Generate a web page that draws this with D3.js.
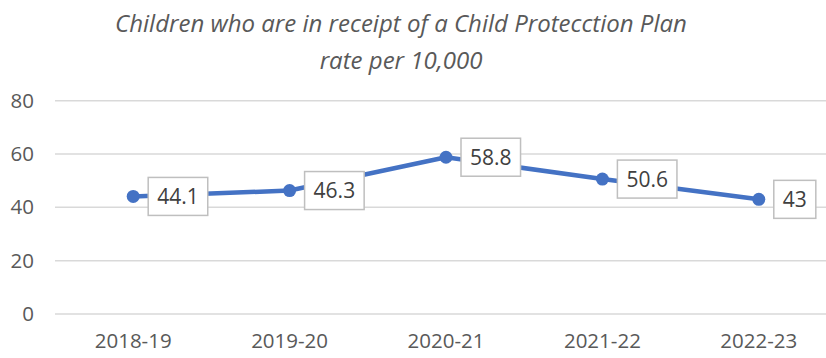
<!DOCTYPE html>
<html><head><meta charset="utf-8">
<script src="https://cdn.jsdelivr.net/npm/d3@7"></script>
<style>
html,body{margin:0;padding:0;background:#fff;}
svg{display:block;}
</style></head>
<body>
<svg id="chart" width="826" height="358"></svg>
<script>
const categories = ["2018-19","2019-20","2020-21","2021-22","2022-23"];
const values = [44.1, 46.3, 58.8, 50.6, 43];
const yTicks = [0, 20, 40, 60, 80];
const titleLines = ["Children who are in receipt of a Child Protecction Plan", "rate per 10,000"];

const svg = d3.select("#chart");
const font = "'Open Sans', sans-serif";

const x = d3.scaleBand().domain(categories).range([55, 837]);
const y = d3.scaleLinear().domain([0, 80]).range([314, 100.7]);

// title
svg.append("g").selectAll("text").data(titleLines).join("text")
  .attr("x", 401).attr("y", (d,i) => 32 + i*37)
  .attr("text-anchor", "middle")
  .attr("font-family", font).attr("font-style", "italic")
  .attr("font-size", 24).attr("fill", "#595959")
  .text(d => d);

// gridlines
svg.append("g").selectAll("line").data(yTicks).join("line")
  .attr("x1", 55).attr("x2", 826)
  .attr("y1", d => y(d)).attr("y2", d => y(d))
  .attr("stroke", "#d9d9d9").attr("stroke-width", 1.5);

// y axis labels
const yAxis = d3.axisLeft(y).tickValues(yTicks).tickSize(0).tickPadding(0);
const yg = svg.append("g").attr("transform", "translate(34,0)").call(yAxis);
yg.select(".domain").remove();
yg.selectAll("text").attr("font-family", font).attr("font-size", 20.5).attr("fill", "#595959");

// x axis labels
const xAxis = d3.axisBottom(x).tickSize(0).tickPadding(0);
const xg = svg.append("g").attr("transform", "translate(0,333)").call(xAxis);
xg.select(".domain").remove();
xg.selectAll("text").attr("font-family", font).attr("font-size", 20.5).attr("fill", "#595959");

const cx = d => x(d) + x.bandwidth()/2;
const pts = categories.map((c,i) => ({c, v: values[i]}));

// line
svg.append("path").datum(pts)
  .attr("d", d3.line().x(d => cx(d.c)).y(d => y(d.v)))
  .attr("fill", "none").attr("stroke", "#4472C4").attr("stroke-width", 4.5)
  .attr("stroke-linejoin", "round");

// markers
svg.append("g").selectAll("circle").data(pts).join("circle")
  .attr("cx", d => cx(d.c)).attr("cy", d => y(d.v)).attr("r", 6.5)
  .attr("fill", "#4472C4");

// data labels
const lg = svg.append("g").selectAll("g").data(pts).join("g")
  .attr("transform", d => `translate(${cx(d.c) + 15},${y(d.v)})`);
const lt = lg.append("text")
  .attr("x", 9).attr("dy", "0.36em")
  .attr("font-family", font).attr("font-size", 21).attr("fill", "#404040")
  .text(d => d.v);
lg.each(function() {
  const g = d3.select(this);
  const w = g.select("text").node().getComputedTextLength();
  g.insert("rect", "text").attr("x", 0).attr("y", -19)
    .attr("width", w + 18).attr("height", 38)
    .attr("fill", "#fff").attr("stroke", "#bfbfbf").attr("stroke-width", 1.5);
});
</script>
</body></html>
